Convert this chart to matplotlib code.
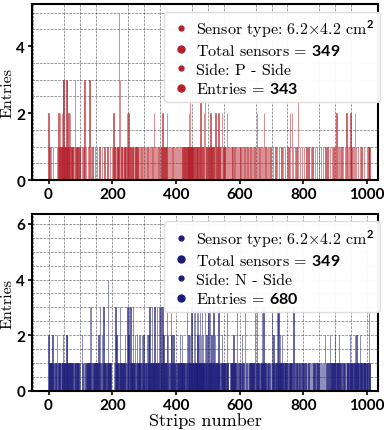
import numpy as np
import matplotlib
matplotlib.use("Agg")
import matplotlib.pyplot as plt
from matplotlib.lines import Line2D
from matplotlib.ticker import MultipleLocator

plt.rcParams["mathtext.fontset"] = "custom"
plt.rcParams["mathtext.rm"] = "cmr10"
plt.rcParams["mathtext.it"] = "cmmi10"
plt.rcParams["mathtext.bf"] = "Lato:bold"

# entries per strip, 16 rows of 64 strips (spaces only for reading)
p_side_rows = [
    "20010000 10000010 00000000 00010012 01101201 11211303 10110101 31301102",
    "10102010 11010101 00301010 10110101 01010000 10000010 03000010 00001000",
    "03000100 00100000 01000000 10000000 10000000 10000000 10000000 01000000",
    "00100000 10102001 01010010 10101050 30010101 01001010 10100020 10020101",
    "01010010 10101001 01001001 01001001 00001000 10001001 00010001 00010010",
    "00100010 00200010 00100100 01000100 10010020 01001001 00102001 00100010",
    "01000100 01001000 10010010 01001001 00100100 10010010 01001111 21111311",
    "11111110 10101010 10101010 10100301 01010101 02003010 10101010 01002010",
    "10010010 10002010 10100020 01010100 20010100 10010100 20010010 01001001",
    "00100000 10001001 00100100 10010001 00010001 00001000 01000010 00100010",
    "00100001 00010020 00100010 00100010 01000200 01000100 01000100 01000000",
    "01000000 10000010 00001000 00010000 01000001 00001000 01000002 00002000",
    "10000100 00100000 30000010 00001000 00010000 00100000 10000001 00000100",
    "00001000 00100000 10000001 00000010 00000100 00001000 00010000 01000001",
    "00001000 20001000 10001000 10000100 00100002 00001000 10002001 00001000",
    "10020010 00001000 01000010 00000010 00000000 10001010 10000000 00000000",
]

n_side_rows = [
    "21011010 11012011 01101011 10210101 10110100 01101201 10110110 21201011",
    "10110110 11010101 10110100 11011010 10100000 02101100 10110101 10101101",
    "01031030 11010110 10110101 01101210 10301101 20110301 10110101 01401011",
    "10110100 00000010 01301211 10110101 03101101 10110110 12011010 30120301",
    "13101101 13011010 20110211 10121010 21010201 10211010 11010201 10211301",
    "10110311 01101301 10113010 11310103 10110130 12011011 10123011 20110101",
    "30201101 21011010 11010110 10110211 01201101 10110100 11310112 10112011",
    "13111011 31113111 13112131 12131121 13111211 11031101 21101131 11031011",
    "21011030 11021011 10110131 10110101 20110110 11010101 30101000 00010110",
    "10110201 10110101 30110101 10101102 11010110 03011010 10100101 10110110",
    "11010110 13010130 10110101 10110131 10131010 11010110 10110101 10010301",
    "10211010 11010311 31310112 10112010 11010110 10110101 10101101 11010100",
    "13010110 10110101 10101010 11010100 10100101 01010010 10100100 01001010",
    "10010100 01001001 00100100 10010010 01002010 10101010 01102011 10110101",
    "10121010 11010112 10110101 01101011 10110100 11010110 10121011 01101010",
    "11201012 10110101 01211010 11010110 10110101 11010310 10100000 00000000",
]

p_labels = [
    r"Sensor type: $6.2{\times}4.2$ cm$^{\mathbf{2}}$",
    r"Total sensors = $\mathbf{349}$",
    "Side: P - Side",
    r"Entries = $\mathbf{343}$",
]
n_labels = [
    r"Sensor type: $6.2{\times}4.2$ cm$^{\mathbf{2}}$",
    r"Total sensors = $\mathbf{349}$",
    "Side: N - Side",
    r"Entries = $\mathbf{680}$",
]

p_color = "#b5202a"
n_color = "#1c1c78"


def to_counts(rows):
    s = "".join(rows).replace(" ", "")
    return np.array([int(c) for c in s])


def draw_panel(ax, counts, color, labels, ymax, both_grid):
    strips = np.arange(len(counts))
    m = counts > 0
    ax.bar(strips[m], counts[m], width=1.0, color=color, alpha=0.7,
           edgecolor=color, linewidth=0.5)

    ax.set_xlim(-52, 1034)
    ax.set_ylim(0, ymax)
    ax.xaxis.set_major_locator(MultipleLocator(200))
    ax.xaxis.set_minor_locator(MultipleLocator(50))
    ax.yaxis.set_major_locator(MultipleLocator(2))
    ax.yaxis.set_minor_locator(MultipleLocator(0.5))
    ax.tick_params(which="minor", length=0)
    ax.tick_params(which="major", length=3, width=1.2, pad=2)
    for lab in ax.get_xticklabels() + ax.get_yticklabels():
        lab.set_family("Lato")
        lab.set_fontweight("bold")
        lab.set_fontsize(11)

    ax.grid(which="minor", linestyle="--", color="black", linewidth=0.5, alpha=0.55)
    if both_grid:
        ax.grid(which="major", linestyle="--", color="black", linewidth=0.5, alpha=0.55)
    ax.set_axisbelow(True)
    for sp in ax.spines.values():
        sp.set_linewidth(1.5)

    ax.set_ylabel("Entries", family="cmr10", fontsize=11.5)
    ax.yaxis.set_label_coords(-0.05, 0.5)

    sizes = [3.5, 5, 3.5, 5]
    handles = [Line2D([], [], marker="o", linestyle="none", color=color,
                      markersize=s) for s in sizes]
    leg = ax.legend(handles, labels, loc="upper right",
                    bbox_to_anchor=(1.005, 0.958), borderaxespad=0,
                    prop={"family": "cmr10", "size": 11.5},
                    labelspacing=0.28, handletextpad=0.2, handlelength=1.4,
                    borderpad=0.35, framealpha=0.95, fancybox=True)
    leg.get_frame().set_edgecolor("#dddddd")


fig = plt.figure(figsize=(3.9, 4.31), dpi=100)
ax1 = fig.add_axes([0.082, 0.58, 0.887, 0.408])
ax2 = fig.add_axes([0.082, 0.0905, 0.887, 0.4105])

draw_panel(ax1, to_counts(p_side_rows), p_color, p_labels, 5.25, False)
draw_panel(ax2, to_counts(n_side_rows), n_color, n_labels, 6.35, True)
ax2.set_xlabel("Strips number", family="cmr10", fontsize=13, labelpad=0)

fig.savefig("out.png", dpi=100)
